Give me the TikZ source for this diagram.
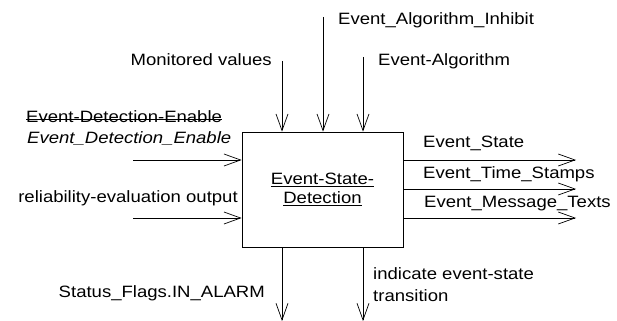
\documentclass[tikz,border=0pt]{standalone}
\usepackage{fontspec}
\setmainfont[FakeStretch=1.13]{Liberation Sans}
\usetikzlibrary{arrows.meta}
\tikzset{
    flow/.style={draw, line width=0.6pt, -{Straight Barb[length=5mm,width=3.6mm,line width=0.6pt]}},
    lbl/.style={font=\fontsize{14}{16}\selectfont, inner sep=0pt},
    block/.style={draw, line width=0.6pt, minimum width=48.3mm, minimum height=34.5mm, align=center, font=\fontsize{14}{17}\selectfont},
}
\begin{document}
\begin{tikzpicture}[x=0.3mm,y=-0.3mm]
    \useasboundingbox (0,0) rectangle (617,321);
    % Funktionsblock
    \node[block] (esd) at (322.5,189.5) {\underline{Event-State-}\\\underline{Detection}};
    % Eingaenge oben
    \coordinate (mv) at (282,61);
    \coordinate (eai) at (323,17);
    \coordinate (ea) at (363,57);
    \foreach \c in {mv,eai,ea}{
        \draw[flow] (\c) -- (\c |- esd.north);
    }
    \node[lbl, anchor=east] (mvtxt) at (272,60) {Monitored values};
    \node[lbl, anchor=west] (eaitxt) at (338,20) {Event\_Algorithm\_Inhibit};
    \node[lbl, anchor=west] (eatxt) at (378,61) {Event-Algorithm};
    % Eingaenge links
    \coordinate (ede) at (133,160);
    \coordinate (reo) at (133,218);
    \foreach \c in {ede,reo}{
        \draw[flow] (\c) -- (\c -| esd.west);
    }
    \node[lbl, anchor=west] (edeold) at (26,117) {Event-Detection-Enable};
    \draw[line width=0.5pt] (edeold.mid west) -- (edeold.mid east);
    \node[lbl, anchor=west] (edetxt) at (27,139) {\itshape Event\_Detection\_Enable};
    \node[lbl, anchor=east] (reotxt) at (238,198) {reliability-evaluation output};
    % Ausgaenge rechts
    \coordinate (es) at (576,160);
    \coordinate (ets) at (576,189);
    \coordinate (emt) at (576,218);
    \foreach \c in {es,ets,emt}{
        \draw[flow] (esd.east |- \c) -- (\c);
    }
    \node[lbl, anchor=west] (estxt) at (423,143) {Event\_State};
    \node[lbl, anchor=west] (etstxt) at (423,174) {Event\_Time\_Stamps};
    \node[lbl, anchor=west] (emttxt) at (424,204) {Event\_Message\_Texts};
    % Ausgaenge unten
    \coordinate (sf) at (282,321);
    \coordinate (iet) at (363,321);
    \foreach \c in {sf,iet}{
        \draw[flow] (\c |- esd.south) -- (\c);
    }
    \node[lbl, anchor=east] (sftxt) at (265,293) {Status\_Flags.IN\_ALARM};
    \node[lbl, anchor=west, align=left, font=\fontsize{14}{18.7}\selectfont] (iettxt) at (373,285) {indicate event-state\\transition};
\end{tikzpicture}
\end{document}
